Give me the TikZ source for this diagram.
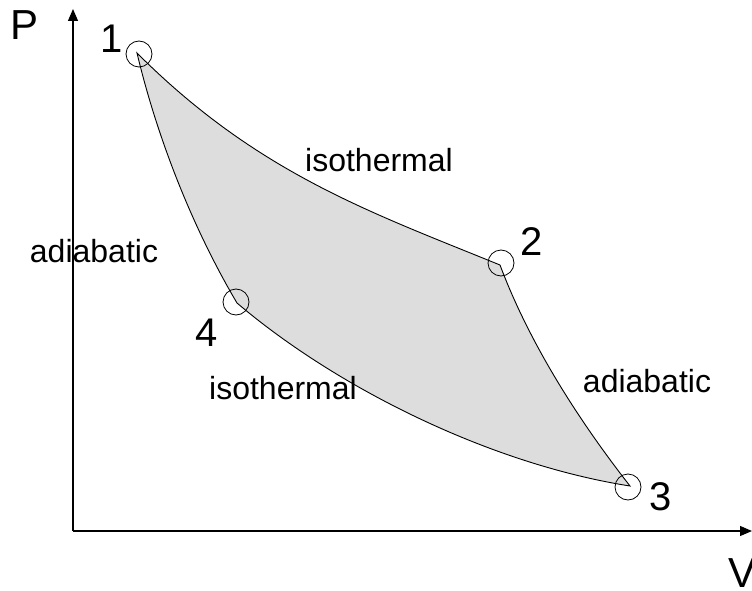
\documentclass[tikz,border=0pt]{standalone}
\usepackage{fontspec}
\setmainfont{Liberation Sans}
\usetikzlibrary{arrows.meta}
\definecolor{cyclegray}{RGB}{221,221,221}

\begin{document}
\begin{tikzpicture}[x=1pt, y=-1pt,
    axis/.style={line width=1.2pt, -{Triangle[length=12pt, width=10pt]}},
    curve/.style={line width=0.9pt},
    statecircle/.style={draw, circle, minimum size=26pt, inner sep=0pt, line width=0.8pt},
    lbl/.style={font=\fontsize{32}{38}\selectfont},
    num/.style={font=\fontsize{40}{48}\selectfont},
    axlbl/.style={font=\fontsize{42}{50}\selectfont}]
  \useasboundingbox (0,0) rectangle (752,591);
  % Axes
  \coordinate (O) at (73,531);
  \coordinate (ptip) at (73,9);
  \coordinate (vtip) at (752,531);
  \draw[axis] (O) -- (ptip);
  \draw[axis] (O) -- (vtip);
  \node[axlbl] (P) at (25,25) {P};
  \node[axlbl] (V) at (742,573) {V};
  % States
  \coordinate (s1) at (137,53);
  \coordinate (s2) at (500,265);
  \coordinate (s3) at (630,486);
  \coordinate (s4) at (237,303);
  % Cycle
  \filldraw[curve, fill=cyclegray] (s1) .. controls (257,173) and (370,212) .. (s2)
    .. controls (530,345) and (580,422) .. (s3)
    .. controls (490,464) and (337,388) .. (s4)
    .. controls (192,227) and (157,137) .. (s1) -- cycle;
  % Circles
  \node[statecircle] (c1) at (139,54) {};
  \node[statecircle] (c2) at (501,263) {};
  \node[statecircle] (c3) at (628,487) {};
  \node[statecircle] (c4) at (236,302) {};
  % Numbers
  \node[num] (n1) at (112,39) {1};
  \node[num] (n2) at (532,242) {2};
  \node[num] (n3) at (661,497) {3};
  \node[num] (n4) at (207,333) {4};
  % Labels
  \node[lbl] (iso12) at (379,160) {isothermal};
  \node[lbl] (iso43) at (283,388) {isothermal};
  \node[lbl] (adi14) at (94,251) {adiabatic};
  \node[lbl] (adi23) at (647,381) {adiabatic};
\end{tikzpicture}
\end{document}
